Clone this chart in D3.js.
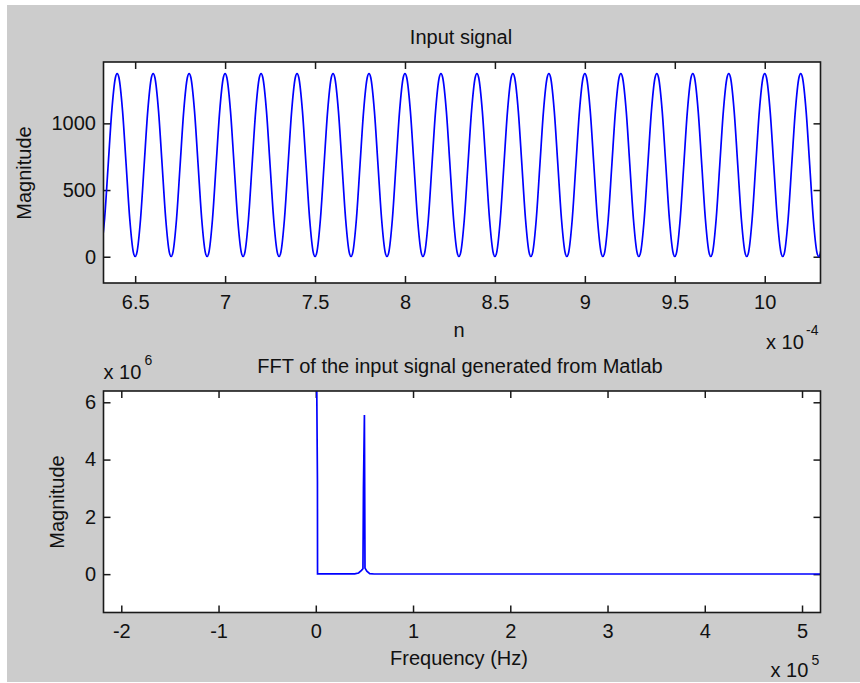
<!DOCTYPE html>
<html>
<head>
<meta charset="utf-8">
<script src="https://cdn.jsdelivr.net/npm/d3@7"></script>
<style>
  body { margin: 0; background: #fff; }
  svg  { display: block; font-family: Arial, "Liberation Sans", sans-serif; }
  .tick text { font-size: 20px; fill: #111; }
  .lbl { font-size: 20px; fill: #111; }
  .sup { font-size: 14px; fill: #111; }
</style>
</head>
<body>
<svg id="chart" width="860" height="683"></svg>
<script>
/***** Data *****/
// input signal: one sample every 2 us, first sample at 6.31e-4 s
const sigStart = 6.31e-4, sigStep = 2e-6;
const sigValues = [
  33, 283, 688, 1092, 1342, 1342, 1092, 688, 283, 33,
  33, 283, 688, 1092, 1342, 1342, 1092, 688, 283, 33,
  33, 283, 688, 1092, 1342, 1342, 1092, 688, 283, 33,
  33, 283, 688, 1092, 1342, 1342, 1092, 688, 283, 33,
  33, 283, 688, 1092, 1342, 1342, 1092, 688, 283, 33,
  33, 283, 688, 1092, 1342, 1342, 1092, 688, 283, 33,
  33, 283, 688, 1092, 1342, 1342, 1092, 688, 283, 33,
  33, 283, 688, 1092, 1342, 1342, 1092, 688, 283, 33,
  33, 283, 688, 1092, 1342, 1342, 1092, 688, 283, 33,
  33, 283, 688, 1092, 1342, 1342, 1092, 688, 283, 33,
  33, 283, 688, 1092, 1342, 1342, 1092, 688, 283, 33,
  33, 283, 688, 1092, 1342, 1342, 1092, 688, 283, 33,
  33, 283, 688, 1092, 1342, 1342, 1092, 688, 283, 33,
  33, 283, 688, 1092, 1342, 1342, 1092, 688, 283, 33,
  33, 283, 688, 1092, 1342, 1342, 1092, 688, 283, 33,
  33, 283, 688, 1092, 1342, 1342, 1092, 688, 283, 33,
  33, 283, 688, 1092, 1342, 1342, 1092, 688, 283, 33,
  33, 283, 688, 1092, 1342, 1342, 1092, 688, 283, 33,
  33, 283, 688, 1092, 1342, 1342, 1092, 688, 283, 33,
  33, 283, 688, 1092, 1342, 1342, 1092, 688, 283, 33,
  33, 283
];

// FFT magnitude
const fftFreq = [0, 1700, 1800, 40000, 44000, 47000, 48500, 49000, 50000, 50600, 52500, 55500, 60000, 525000];
const fftMag  = [11e6, 3.23e6, 0.01e6, 0.01e6, 0.04e6, 0.13e6, 0.19e6, 3.0e6, 5.56e6, 0.21e6, 0.1e6, 0.02e6, 0.006e6, 0.006e6];

// axis limits and ticks
const sigXLim  = [6.324e-4, 10.31e-4];
const sigYLim  = [-197, 1460];
const sigXTick = [6.5, 7, 7.5, 8, 8.5, 9, 9.5, 10];   // x 10^-4
const sigYTick = [0, 500, 1000];

const fftXLim  = [-2.183e5, 5.19e5];
const fftYLim  = [-1.339e6, 6.394e6];
const fftXTick = [-2, -1, 0, 1, 2, 3, 4, 5];          // x 10^5
const fftYTick = [0, 2, 4, 6];                        // x 10^6

/***** Figure *****/
const svg = d3.select("#chart");
svg.append("rect").attr("x", 7).attr("y", 5).attr("width", 853).attr("height", 677).attr("fill", "#cccccc");

function drawAxes(box, xs, ys, xt, yt, xk, yk, id) {
  const g = svg.append("g");
  g.append("rect")
    .attr("x", box.x0).attr("y", box.y0)
    .attr("width", box.x1 - box.x0).attr("height", box.y1 - box.y0)
    .attr("fill", "#fff");

  g.append("clipPath").attr("id", id).append("rect")
    .attr("x", box.x0).attr("y", box.y0)
    .attr("width", box.x1 - box.x0).attr("height", box.y1 - box.y0);

  const tl = 7;
  const fmt = v => String(+v.toFixed(2));
  g.append("g").attr("transform", `translate(0,${box.y1})`)
    .call(d3.axisBottom(xs).tickValues(xt.map(v => v * xk)).tickFormat(v => fmt(v / xk))
      .tickSizeInner(-tl).tickSizeOuter(0).tickPadding(11.5));
  g.append("g").attr("transform", `translate(0,${box.y0})`)
    .call(d3.axisTop(xs).tickValues(xt.map(v => v * xk)).tickFormat("")
      .tickSizeInner(-tl).tickSizeOuter(0));
  g.append("g").attr("transform", `translate(${box.x0},0)`)
    .call(d3.axisLeft(ys).tickValues(yt.map(v => v * yk)).tickFormat(v => fmt(v / yk))
      .tickSizeInner(-tl).tickSizeOuter(0).tickPadding(7.5));
  g.append("g").attr("transform", `translate(${box.x1},0)`)
    .call(d3.axisRight(ys).tickValues(yt.map(v => v * yk)).tickFormat("")
      .tickSizeInner(-tl).tickSizeOuter(0));

  g.selectAll(".domain").remove();
  g.selectAll(".tick line").attr("stroke", "#1a1a1a").attr("stroke-width", 1.5);
  g.selectAll(".tick text").attr("font-family", null).attr("font-size", null);
  return g;
}

function frame(g, box) {
  g.append("rect")
    .attr("x", box.x0).attr("y", box.y0)
    .attr("width", box.x1 - box.x0).attr("height", box.y1 - box.y0)
    .attr("fill", "none").attr("stroke", "#1a1a1a").attr("stroke-width", 1.6);
}

/***** Top: input signal *****/
const boxA = { x0: 103.5, x1: 820.5, y0: 62, y1: 283 };
const xA = d3.scaleLinear().domain(sigXLim).range([boxA.x0, boxA.x1]);
const yA = d3.scaleLinear().domain(sigYLim).range([boxA.y1, boxA.y0]);
const gA = drawAxes(boxA, xA, yA, sigXTick, sigYTick, 1e-4, 1, "clipA");

const sigLine = d3.line()
  .x((d, i) => xA(sigStart + i * sigStep))
  .y(d => yA(d))
  .curve(d3.curveCardinal.tension(0));
gA.append("path").datum(sigValues)
  .attr("clip-path", "url(#clipA)")
  .attr("fill", "none").attr("stroke", "#0000ff").attr("stroke-width", 1.7)
  .attr("d", sigLine);
frame(gA, boxA);

svg.append("text").attr("class", "lbl").attr("x", 461).attr("y", 44).attr("text-anchor", "middle").text("Input signal");
svg.append("text").attr("class", "lbl").attr("x", 459).attr("y", 337).attr("text-anchor", "middle").text("n");
svg.append("text").attr("class", "lbl").attr("x", 766).attr("y", 349).text("x 10");
svg.append("text").attr("class", "sup").attr("x", 806).attr("y", 335).text("-4");
svg.append("text").attr("class", "lbl").attr("text-anchor", "middle")
  .attr("transform", "translate(30.5,173) rotate(-90)").text("Magnitude");

/***** Bottom: FFT *****/
const boxB = { x0: 103.5, x1: 820.5, y0: 391, y1: 612.5 };
const xB = d3.scaleLinear().domain(fftXLim).range([boxB.x0, boxB.x1]);
const yB = d3.scaleLinear().domain(fftYLim).range([boxB.y1, boxB.y0]);
const gB = drawAxes(boxB, xB, yB, fftXTick, fftYTick, 1e5, 1e6, "clipB");

const fftLine = d3.line()
  .x((d, i) => xB(fftFreq[i]))
  .y(d => yB(d));
gB.append("path").datum(fftMag)
  .attr("clip-path", "url(#clipB)")
  .attr("fill", "none").attr("stroke", "#0000ff").attr("stroke-width", 1.7)
  .attr("d", fftLine);
frame(gB, boxB);

svg.append("text").attr("class", "lbl").attr("x", 460).attr("y", 373).attr("text-anchor", "middle")
  .text("FFT of the input signal generated from Matlab");
svg.append("text").attr("class", "lbl").attr("x", 103.5).attr("y", 379).text("x 10");
svg.append("text").attr("class", "sup").attr("x", 144.5).attr("y", 365).text("6");
svg.append("text").attr("class", "lbl").attr("x", 459).attr("y", 665).attr("text-anchor", "middle").text("Frequency (Hz)");
svg.append("text").attr("class", "lbl").attr("x", 770.5).attr("y", 676.5).text("x 10");
svg.append("text").attr("class", "sup").attr("x", 811.5).attr("y", 665).text("5");
svg.append("text").attr("class", "lbl").attr("text-anchor", "middle")
  .attr("transform", "translate(63.5,502) rotate(-90)").text("Magnitude");
</script>
</body>
</html>
